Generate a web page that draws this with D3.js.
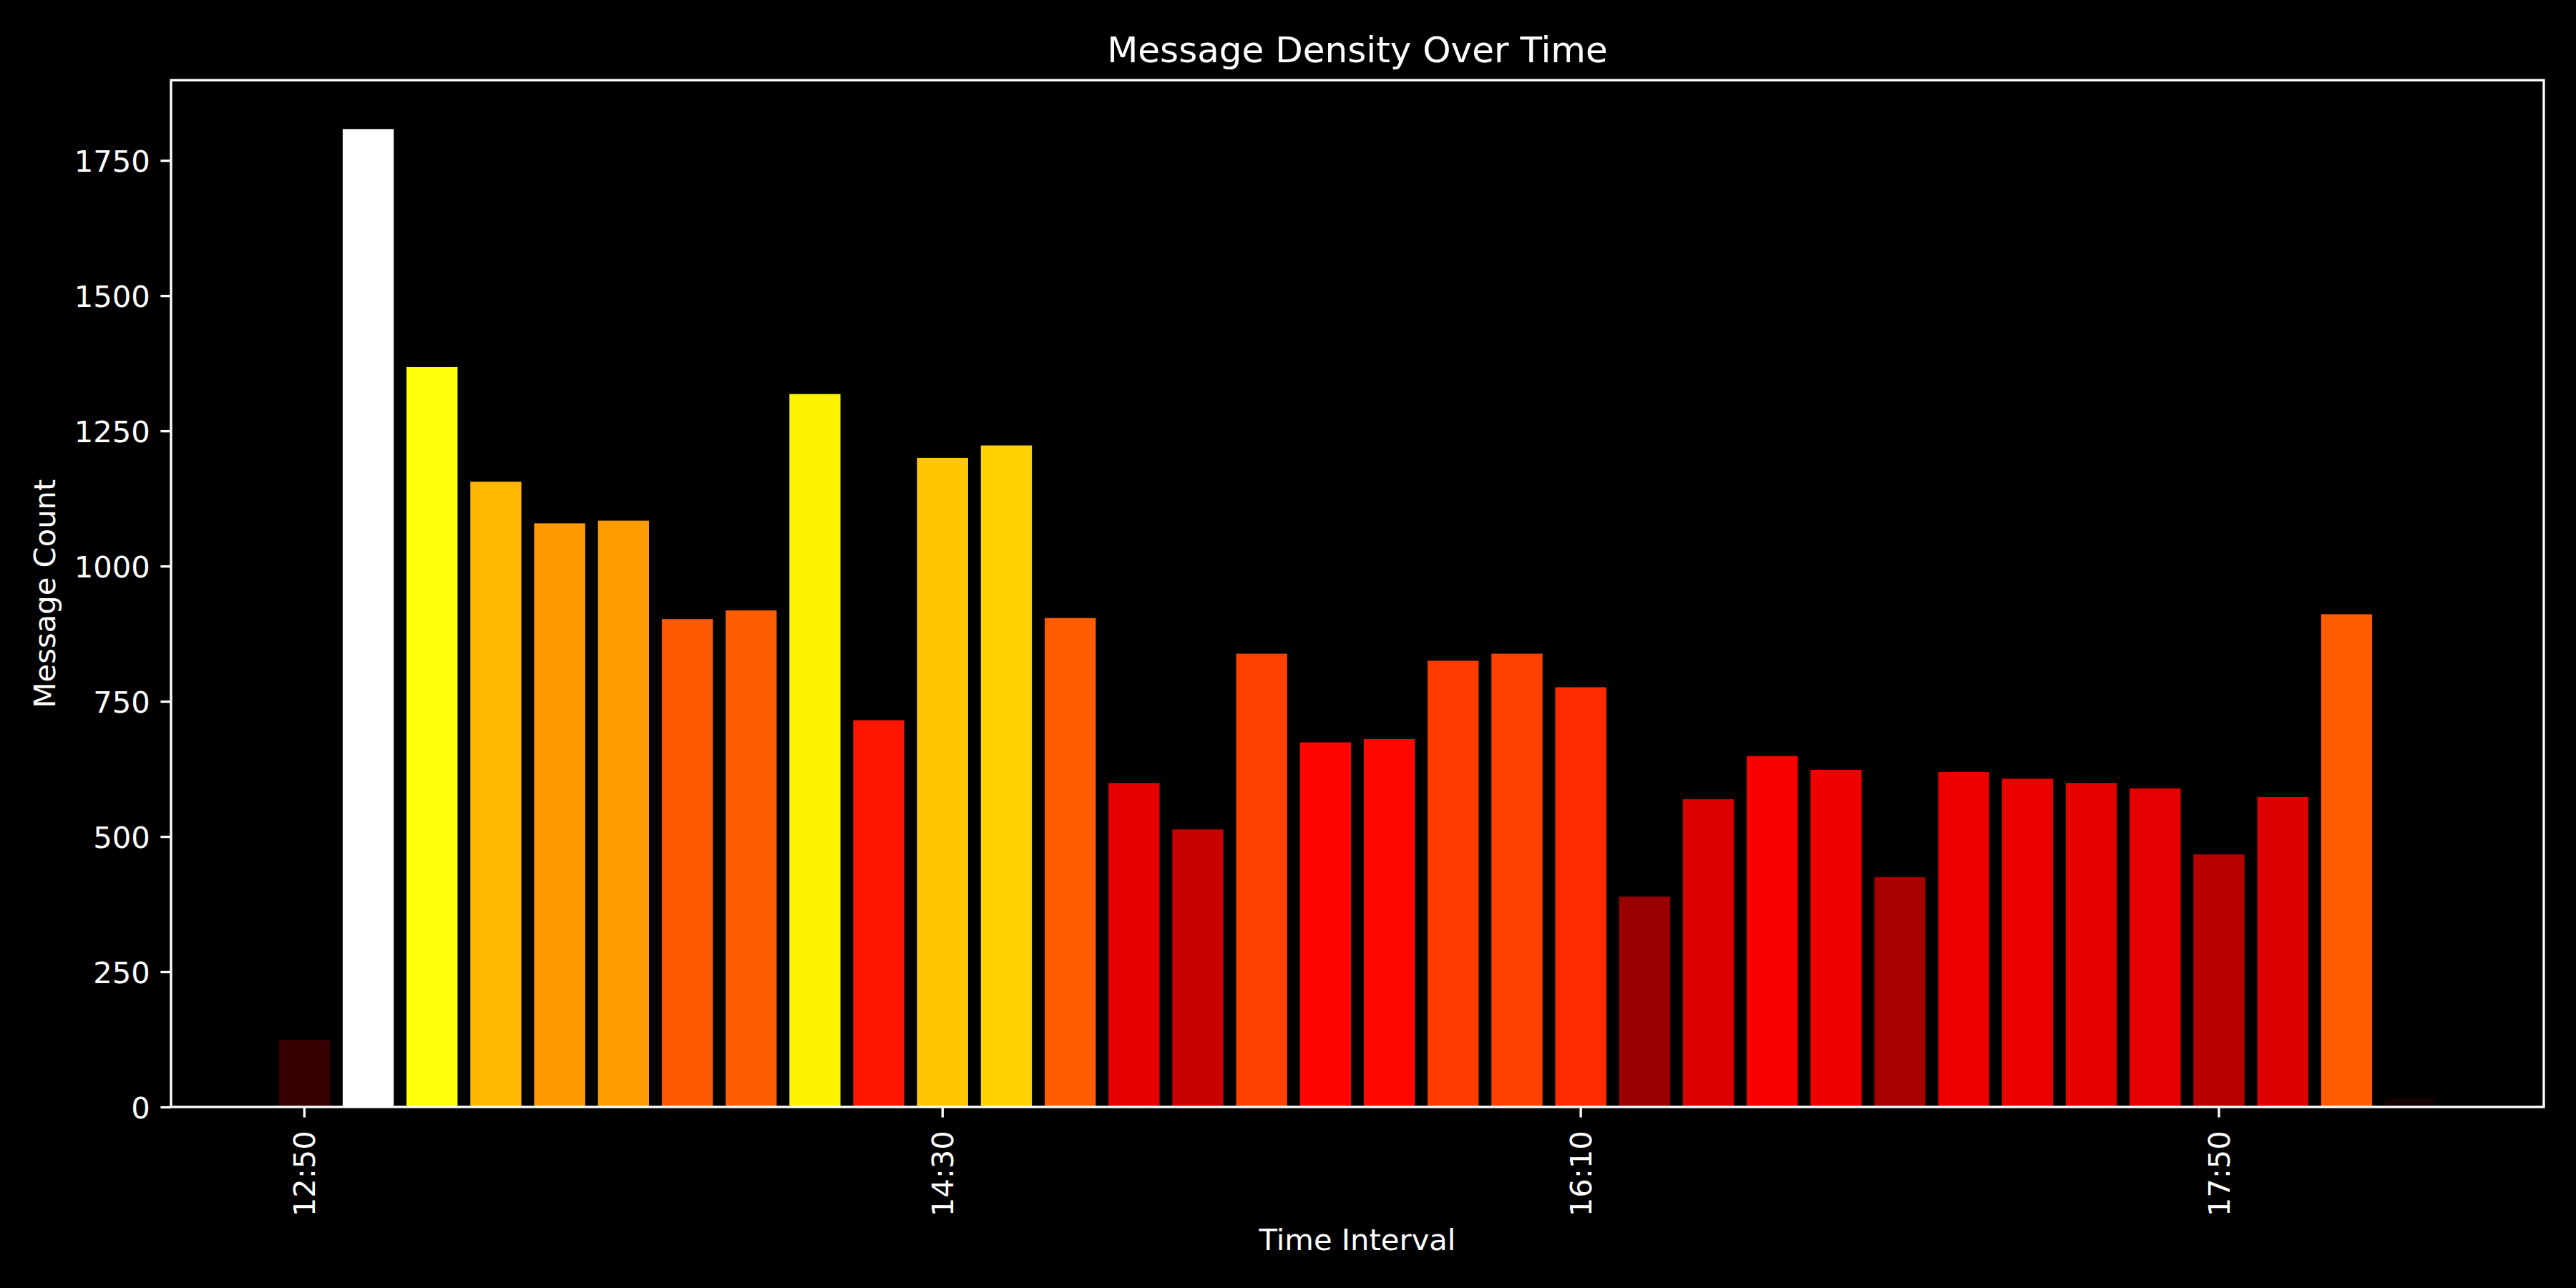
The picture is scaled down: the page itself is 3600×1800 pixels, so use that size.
<!DOCTYPE html>
<html>
<head>
<meta charset="utf-8">
<script src="https://cdn.jsdelivr.net/npm/d3@7"></script>
<style>
  body { margin: 0; background: #000; }
  text { font-family: "DejaVu Sans", sans-serif; fill: #fff; }
</style>
</head>
<body>
<div id="chart"></div>
<script>
      var w = 3600;
      var h = 1800;

      // time buckets (10 min) and message counts
      var times = ["12:50","13:00","13:10","13:20","13:30","13:40","13:50","14:00","14:10","14:20",
                   "14:30","14:40","14:50","15:00","15:10","15:20","15:30","15:40","15:50","16:00",
                   "16:10","16:20","16:30","16:40","16:50","17:00","17:10","17:20","17:30","17:40",
                   "17:50","18:00","18:10","18:20"];

      var counts = [124, 1808, 1368, 1156, 1079, 1084, 902, 918, 1318, 715,
                    1200, 1223, 904, 599, 513, 838, 674, 680, 825, 838,
                    776, 389, 569, 649, 623, 425, 619, 607, 599, 589,
                    467, 573, 911, 18];

      var xTickLabels = ["12:50", "14:30", "16:10", "17:50"];
      var yTicks = [0, 250, 500, 750, 1000, 1250, 1500, 1750];

      // plot area (window.top is reserved, so prefixed names)
      var axLeft = 239, axRight = 3555, axTop = 112, axBottom = 1547;
      var tickLen = 14.6, tickPad = 14.6, lw = 3.33;

      //matplotlib "hot" colormap, 256 steps
      var hot = function(t) {
        var i = Math.max(0, Math.min(255, Math.floor(t * 256)));
        var x = i / 255;
        var r = x < 0.365079 ? 0.0416 + (1 - 0.0416) * x / 0.365079 : 1;
        var g = x < 0.365079 ? 0 : (x < 0.746032 ? (x - 0.365079) / (0.746032 - 0.365079) : 1);
        var b = x < 0.746032 ? 0 : (x - 0.746032) / (1 - 0.746032);
        return d3.rgb(r * 255, g * 255, b * 255).formatHex();
      };

      var colorScale = d3.scaleSequential(hot)
                         .domain([0, d3.max(counts)]);

      var xScale = d3.scaleBand()
                     .domain(times)
                     .range([axLeft, axRight])
                     .paddingInner(0.2)
                     .paddingOuter(1.69);

      var yScale = d3.scaleLinear()
                     .domain([0, d3.max(counts) * 1.05])
                     .range([axBottom, axTop]);

      //Create SVG element
      var svg = d3.select("#chart")
            .append("svg")
            .attr("width", w)
            .attr("height", h)
            .style("background", "#000");

      //Create bars
      svg.selectAll("rect.bar")
         .data(counts)
         .enter()
         .append("rect")
         .attr("class", "bar")
         .attr("x", function(d, i) { return xScale(times[i]); })
         .attr("width", xScale.bandwidth())
         .attr("y", function(d) { return yScale(d); })
         .attr("height", function(d) { return yScale(0) - yScale(d); })
         .attr("fill", function(d) { return colorScale(d); });

      //Define X axis
      var xAxis = d3.axisBottom()
                    .scale(xScale)
                    .tickValues(xTickLabels)
                    .tickSize(tickLen)
                    .tickSizeOuter(0);

      //Define Y axis
      var yAxis = d3.axisLeft()
                    .scale(yScale)
                    .tickValues(yTicks)
                    .tickFormat(d3.format("d"))
                    .tickSize(tickLen)
                    .tickPadding(tickPad)
                    .tickSizeOuter(0);

      var gx = svg.append("g")
         .attr("class", "axis")
         .attr("transform", "translate(0," + axBottom + ")")
         .call(xAxis);

      gx.selectAll("text")
        .attr("transform", "rotate(-90)")
        .attr("text-anchor", "end")
        .attr("x", -(tickLen + tickPad + 4))
        .attr("y", 0)
        .attr("dy", "0.36em");

      //Create Y axis
      var gy = svg.append("g")
         .attr("class", "axis")
         .attr("transform", "translate(" + axLeft + ",0)")
         .call(yAxis);

      gy.selectAll("text").attr("dy", "0.36em");

      svg.selectAll(".axis .domain").remove();
      svg.selectAll(".axis line")
         .attr("stroke", "#fff")
         .attr("stroke-width", lw);
      svg.selectAll(".axis text")
         .attr("fill", "#fff")
         .style("font-size", "41.7px")
         .style("font-family", "DejaVu Sans");

      //frame
      svg.append("rect")
         .attr("x", axLeft)
         .attr("y", axTop)
         .attr("width", axRight - axLeft)
         .attr("height", axBottom - axTop)
         .attr("fill", "none")
         .attr("stroke", "#fff")
         .attr("stroke-width", lw);

      //title and labels
      svg.append("text")
         .attr("x", (axLeft + axRight) / 2)
         .attr("y", 87)
         .attr("text-anchor", "middle")
         .style("font-size", "50px")
         .text("Message Density Over Time");

      svg.append("text")
         .attr("x", (axLeft + axRight) / 2)
         .attr("y", 1747)
         .attr("text-anchor", "middle")
         .style("font-size", "41.7px")
         .text("Time Interval");

      svg.append("text")
         .attr("transform", "translate(77," + (axTop + axBottom) / 2 + ") rotate(-90)")
         .attr("text-anchor", "middle")
         .style("font-size", "41.7px")
         .text("Message Count");
</script>
</body>
</html>
